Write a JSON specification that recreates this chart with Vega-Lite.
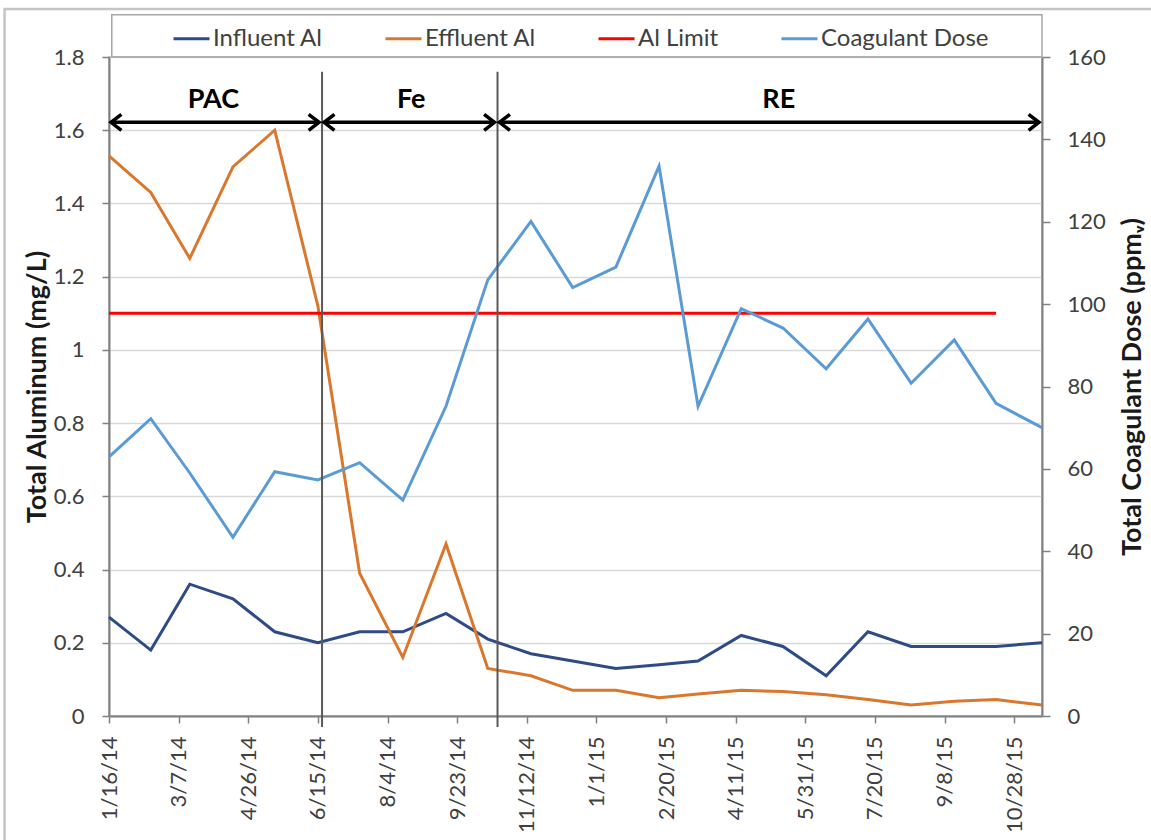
{
  "$schema": "https://vega.github.io/schema/vega-lite/v6.json",
  "width": 933,
  "height": 659,
  "autosize": {"type": "none"},
  "padding": {"left": 109, "top": 57, "right": 109, "bottom": 124},
  "background": "white",
  "config": {
    "font": "Lato",
    "view": {"stroke": "#A6A6A6", "strokeWidth": 1.5},
    "axis": {
      "labelFont": "Lato", "labelFontSize": 22, "labelColor": "#404040",
      "titleFont": "Lato", "titleFontSize": 27, "titleFontWeight": "bold", "titleColor": "#1a1a1a",
      "domainColor": "#808080", "domainWidth": 2, "tickColor": "#808080", "tickWidth": 1.5, "tickSize": 7,
      "gridColor": "#D9D9D9", "gridWidth": 1.5
    }
  },
  "datasets": {
    "series": [
      {"date": "2014-01-16", "series": "Influent Al", "value": 0.27},
      {"date": "2014-02-15", "series": "Influent Al", "value": 0.18},
      {"date": "2014-03-15", "series": "Influent Al", "value": 0.36},
      {"date": "2014-04-15", "series": "Influent Al", "value": 0.32},
      {"date": "2014-05-15", "series": "Influent Al", "value": 0.23},
      {"date": "2014-06-15", "series": "Influent Al", "value": 0.20},
      {"date": "2014-07-15", "series": "Influent Al", "value": 0.23},
      {"date": "2014-08-15", "series": "Influent Al", "value": 0.23},
      {"date": "2014-09-15", "series": "Influent Al", "value": 0.28},
      {"date": "2014-10-15", "series": "Influent Al", "value": 0.21},
      {"date": "2014-11-15", "series": "Influent Al", "value": 0.17},
      {"date": "2014-12-15", "series": "Influent Al", "value": 0.15},
      {"date": "2015-01-15", "series": "Influent Al", "value": 0.13},
      {"date": "2015-02-15", "series": "Influent Al", "value": 0.14},
      {"date": "2015-03-15", "series": "Influent Al", "value": 0.15},
      {"date": "2015-04-15", "series": "Influent Al", "value": 0.22},
      {"date": "2015-05-15", "series": "Influent Al", "value": 0.19},
      {"date": "2015-06-15", "series": "Influent Al", "value": 0.11},
      {"date": "2015-07-15", "series": "Influent Al", "value": 0.23},
      {"date": "2015-08-15", "series": "Influent Al", "value": 0.19},
      {"date": "2015-09-15", "series": "Influent Al", "value": 0.19},
      {"date": "2015-10-15", "series": "Influent Al", "value": 0.19},
      {"date": "2015-11-17", "series": "Influent Al", "value": 0.20},
      {"date": "2014-01-16", "series": "Effluent Al", "value": 1.53},
      {"date": "2014-02-15", "series": "Effluent Al", "value": 1.43},
      {"date": "2014-03-15", "series": "Effluent Al", "value": 1.25},
      {"date": "2014-04-15", "series": "Effluent Al", "value": 1.50},
      {"date": "2014-05-15", "series": "Effluent Al", "value": 1.60},
      {"date": "2014-06-15", "series": "Effluent Al", "value": 1.12},
      {"date": "2014-07-15", "series": "Effluent Al", "value": 0.39},
      {"date": "2014-08-15", "series": "Effluent Al", "value": 0.16},
      {"date": "2014-09-15", "series": "Effluent Al", "value": 0.47},
      {"date": "2014-10-15", "series": "Effluent Al", "value": 0.13},
      {"date": "2014-11-15", "series": "Effluent Al", "value": 0.11},
      {"date": "2014-12-15", "series": "Effluent Al", "value": 0.07},
      {"date": "2015-01-15", "series": "Effluent Al", "value": 0.07},
      {"date": "2015-02-15", "series": "Effluent Al", "value": 0.05},
      {"date": "2015-03-15", "series": "Effluent Al", "value": 0.06},
      {"date": "2015-04-15", "series": "Effluent Al", "value": 0.07},
      {"date": "2015-05-15", "series": "Effluent Al", "value": 0.067},
      {"date": "2015-06-15", "series": "Effluent Al", "value": 0.058},
      {"date": "2015-07-15", "series": "Effluent Al", "value": 0.045},
      {"date": "2015-08-15", "series": "Effluent Al", "value": 0.03},
      {"date": "2015-09-15", "series": "Effluent Al", "value": 0.04},
      {"date": "2015-10-15", "series": "Effluent Al", "value": 0.045},
      {"date": "2015-11-17", "series": "Effluent Al", "value": 0.03},
      {"date": "2014-01-16", "series": "Al Limit", "value": 1.1},
      {"date": "2014-02-15", "series": "Al Limit", "value": 1.1},
      {"date": "2014-03-15", "series": "Al Limit", "value": 1.1},
      {"date": "2014-04-15", "series": "Al Limit", "value": 1.1},
      {"date": "2014-05-15", "series": "Al Limit", "value": 1.1},
      {"date": "2014-06-15", "series": "Al Limit", "value": 1.1},
      {"date": "2014-07-15", "series": "Al Limit", "value": 1.1},
      {"date": "2014-08-15", "series": "Al Limit", "value": 1.1},
      {"date": "2014-09-15", "series": "Al Limit", "value": 1.1},
      {"date": "2014-10-15", "series": "Al Limit", "value": 1.1},
      {"date": "2014-11-15", "series": "Al Limit", "value": 1.1},
      {"date": "2014-12-15", "series": "Al Limit", "value": 1.1},
      {"date": "2015-01-15", "series": "Al Limit", "value": 1.1},
      {"date": "2015-02-15", "series": "Al Limit", "value": 1.1},
      {"date": "2015-03-15", "series": "Al Limit", "value": 1.1},
      {"date": "2015-04-15", "series": "Al Limit", "value": 1.1},
      {"date": "2015-05-15", "series": "Al Limit", "value": 1.1},
      {"date": "2015-06-15", "series": "Al Limit", "value": 1.1},
      {"date": "2015-07-15", "series": "Al Limit", "value": 1.1},
      {"date": "2015-08-15", "series": "Al Limit", "value": 1.1},
      {"date": "2015-09-15", "series": "Al Limit", "value": 1.1},
      {"date": "2015-10-15", "series": "Al Limit", "value": 1.1},
      {"date": "2014-01-16", "series": "Coagulant Dose", "value": 62.9},
      {"date": "2014-02-15", "series": "Coagulant Dose", "value": 72.2},
      {"date": "2014-03-15", "series": "Coagulant Dose", "value": 59.0},
      {"date": "2014-04-15", "series": "Coagulant Dose", "value": 43.4},
      {"date": "2014-05-15", "series": "Coagulant Dose", "value": 59.3},
      {"date": "2014-06-15", "series": "Coagulant Dose", "value": 57.3},
      {"date": "2014-07-15", "series": "Coagulant Dose", "value": 61.5},
      {"date": "2014-08-15", "series": "Coagulant Dose", "value": 52.4},
      {"date": "2014-09-15", "series": "Coagulant Dose", "value": 75.2},
      {"date": "2014-10-15", "series": "Coagulant Dose", "value": 105.9},
      {"date": "2014-11-15", "series": "Coagulant Dose", "value": 120.1},
      {"date": "2014-12-15", "series": "Coagulant Dose", "value": 104.0},
      {"date": "2015-01-15", "series": "Coagulant Dose", "value": 109.0},
      {"date": "2015-02-15", "series": "Coagulant Dose", "value": 133.5},
      {"date": "2015-03-15", "series": "Coagulant Dose", "value": 75.2},
      {"date": "2015-04-15", "series": "Coagulant Dose", "value": 98.9},
      {"date": "2015-05-15", "series": "Coagulant Dose", "value": 94.2},
      {"date": "2015-06-15", "series": "Coagulant Dose", "value": 84.3},
      {"date": "2015-07-15", "series": "Coagulant Dose", "value": 96.4},
      {"date": "2015-08-15", "series": "Coagulant Dose", "value": 80.8},
      {"date": "2015-09-15", "series": "Coagulant Dose", "value": 91.3},
      {"date": "2015-10-15", "series": "Coagulant Dose", "value": 75.9},
      {"date": "2015-11-17", "series": "Coagulant Dose", "value": 70.0}
    ],
    "phases": [
      {"phase": "PAC", "start": "2014-01-16", "end": "2014-06-18", "labelDate": "2014-04-01"},
      {"phase": "Fe", "start": "2014-06-18", "end": "2014-10-22", "labelDate": "2014-08-21"},
      {"phase": "RE", "start": "2014-10-22", "end": "2015-11-17", "labelDate": "2015-05-12"}
    ]
  },
  "layer": [
    {
      "data": {"name": "series"},
      "transform": [{"filter": "datum.series !== 'Coagulant Dose'"}],
      "mark": {"type": "line", "strokeWidth": 3},
      "encoding": {
        "x": {
          "field": "date", "type": "temporal",
          "scale": {"type": "utc", "domain": [1389830400000, 1447718400000], "nice": false},
          "axis": {"title": null, "labelExpr": "utcFormat(datum.value, '%-m/%-d/%y')", "labelAngle": 270, "labelPadding": 13, "grid": false, "orient": "bottom", "values": [1389830400000, 1394150400000, 1398470400000, 1402790400000, 1407110400000, 1411430400000, 1415750400000, 1420070400000, 1424390400000, 1428710400000, 1433030400000, 1437350400000, 1441670400000, 1445990400000]}
        },
        "y": {
          "field": "value", "type": "quantitative",
          "scale": {"domain": [0, 1.8], "nice": false},
          "axis": {"orient": "left", "title": "Total Aluminum (mg/L)", "values": [0, 0.2, 0.4, 0.6, 0.8, 1, 1.2, 1.4, 1.6, 1.8], "format": "~g", "labelPadding": 18, "titlePadding": 2, "grid": true}
        },
        "color": {
          "field": "series", "type": "nominal",
          "scale": {"domain": ["Influent Al", "Effluent Al", "Al Limit", "Coagulant Dose"], "range": ["#2E4A87", "#D9782D", "#FF0000", "#5B9BD5"]},
          "legend": {"orient": "none", "legendX": 63, "legendY": -38, "direction": "horizontal", "title": null, "symbolType": "stroke", "symbolSize": 1296, "symbolStrokeWidth": 3, "labelFont": "Lato", "labelFontSize": 24, "labelColor": "#404040", "labelOffset": 2, "labelLimit": 400, "columnPadding": 56, "padding": 0}
        }
      }
    },
    {
      "data": {"name": "series"},
      "transform": [{"filter": "datum.series === 'Coagulant Dose'"}],
      "mark": {"type": "line", "strokeWidth": 3},
      "encoding": {
        "x": {"field": "date", "type": "temporal", "scale": {"type": "utc"},
          "axis": {"title": null, "labelExpr": "utcFormat(datum.value, '%-m/%-d/%y')", "labelAngle": 270, "labelPadding": 13, "grid": false, "orient": "bottom", "values": [1389830400000, 1394150400000, 1398470400000, 1402790400000, 1407110400000, 1411430400000, 1415750400000, 1420070400000, 1424390400000, 1428710400000, 1433030400000, 1437350400000, 1441670400000, 1445990400000]}},
        "y": {
          "field": "value", "type": "quantitative",
          "scale": {"domain": [0, 160], "nice": false},
          "axis": {"orient": "right", "title": "Total Coagulant Dose (ppmᵥ)", "titleAngle": 270, "titleBaseline": "top", "values": [0, 20, 40, 60, 80, 100, 120, 140, 160], "grid": false, "tickSize": 8, "labelPadding": 17, "titlePadding": 14}
        },
        "color": {"field": "series", "type": "nominal"}
      }
    },
    {
      "data": {"values": [{}]},
      "mark": {"type": "rect", "fill": "transparent", "stroke": "#C4C4C4", "strokeWidth": 2.5},
      "encoding": {
        "x": {"datum": 1383350400000, "type": "temporal", "scale": {"type": "utc"},
          "axis": {"title": null, "labelExpr": "utcFormat(datum.value, '%-m/%-d/%y')", "labelAngle": 270, "labelPadding": 13, "grid": false, "orient": "bottom", "values": [1389830400000, 1394150400000, 1398470400000, 1402790400000, 1407110400000, 1411430400000, 1415750400000, 1420070400000, 1424390400000, 1428710400000, 1433030400000, 1437350400000, 1441670400000, 1445990400000]}},
        "x2": {"datum": 1456790400000},
        "y": {"datum": 1.931, "type": "quantitative", "scale": {"domain": [0, 1.8], "nice": false}, "axis": null},
        "y2": {"datum": -0.6}
      }
    },
    {
      "data": {"values": [{}]},
      "mark": {"type": "rect", "fill": "transparent", "stroke": "#A6A6A6", "strokeWidth": 1.5},
      "encoding": {
        "x": {"datum": 1390003200000, "type": "temporal", "scale": {"type": "utc"},
          "axis": {"title": null, "labelExpr": "utcFormat(datum.value, '%-m/%-d/%y')", "labelAngle": 270, "labelPadding": 13, "grid": false, "orient": "bottom", "values": [1389830400000, 1394150400000, 1398470400000, 1402790400000, 1407110400000, 1411430400000, 1415750400000, 1420070400000, 1424390400000, 1428710400000, 1433030400000, 1437350400000, 1441670400000, 1445990400000]}},
        "x2": {"datum": 1447718400000},
        "y": {"datum": 1.8, "type": "quantitative", "scale": {"domain": [0, 1.8], "nice": false}, "axis": null},
        "y2": {"datum": 1.9155}
      }
    },
    {
      "data": {"name": "phases"},
      "transform": [{"filter": "datum.phase !== 'RE'"}],
      "mark": {"type": "rule", "color": "#595959", "strokeWidth": 2},
      "encoding": {
        "x": {"field": "end", "type": "temporal", "scale": {"type": "utc"},
          "axis": {"title": null, "labelExpr": "utcFormat(datum.value, '%-m/%-d/%y')", "labelAngle": 270, "labelPadding": 13, "grid": false, "orient": "bottom", "values": [1389830400000, 1394150400000, 1398470400000, 1402790400000, 1407110400000, 1411430400000, 1415750400000, 1420070400000, 1424390400000, 1428710400000, 1433030400000, 1437350400000, 1441670400000, 1445990400000]}},
        "y": {"datum": 1.76, "type": "quantitative", "scale": {"domain": [0, 1.8], "nice": false}, "axis": null},
        "y2": {"datum": -0.03}
      }
    },
    {
      "data": {"name": "phases"},
      "mark": {"type": "rule", "color": "black", "strokeWidth": 3.5, "xOffset": 3, "x2Offset": -3},
      "encoding": {
        "x": {"field": "start", "type": "temporal", "scale": {"type": "utc"},
          "axis": {"title": null, "labelExpr": "utcFormat(datum.value, '%-m/%-d/%y')", "labelAngle": 270, "labelPadding": 13, "grid": false, "orient": "bottom", "values": [1389830400000, 1394150400000, 1398470400000, 1402790400000, 1407110400000, 1411430400000, 1415750400000, 1420070400000, 1424390400000, 1428710400000, 1433030400000, 1437350400000, 1441670400000, 1445990400000]}},
        "x2": {"field": "end"},
        "y": {"datum": 1.6215, "type": "quantitative", "scale": {"domain": [0, 1.8], "nice": false}, "axis": null}
      }
    },
    {
      "data": {"name": "phases"},
      "mark": {"type": "point", "shape": "M1.3,-1L0,0L1.3,1", "filled": false, "stroke": "black", "strokeWidth": 3.5, "opacity": 1, "size": 256, "xOffset": 2},
      "encoding": {
        "x": {"field": "start", "type": "temporal", "scale": {"type": "utc"},
          "axis": {"title": null, "labelExpr": "utcFormat(datum.value, '%-m/%-d/%y')", "labelAngle": 270, "labelPadding": 13, "grid": false, "orient": "bottom", "values": [1389830400000, 1394150400000, 1398470400000, 1402790400000, 1407110400000, 1411430400000, 1415750400000, 1420070400000, 1424390400000, 1428710400000, 1433030400000, 1437350400000, 1441670400000, 1445990400000]}},
        "y": {"datum": 1.6215, "type": "quantitative", "scale": {"domain": [0, 1.8], "nice": false}, "axis": null}
      }
    },
    {
      "data": {"name": "phases"},
      "mark": {"type": "point", "shape": "M-1.3,-1L0,0L-1.3,1", "filled": false, "stroke": "black", "strokeWidth": 3.5, "opacity": 1, "size": 256, "xOffset": -3},
      "encoding": {
        "x": {"field": "end", "type": "temporal", "scale": {"type": "utc"},
          "axis": {"title": null, "labelExpr": "utcFormat(datum.value, '%-m/%-d/%y')", "labelAngle": 270, "labelPadding": 13, "grid": false, "orient": "bottom", "values": [1389830400000, 1394150400000, 1398470400000, 1402790400000, 1407110400000, 1411430400000, 1415750400000, 1420070400000, 1424390400000, 1428710400000, 1433030400000, 1437350400000, 1441670400000, 1445990400000]}},
        "y": {"datum": 1.6215, "type": "quantitative", "scale": {"domain": [0, 1.8], "nice": false}, "axis": null}
      }
    },
    {
      "data": {"name": "phases"},
      "mark": {"type": "text", "font": "Lato", "fontSize": 27, "fontWeight": "bold", "color": "black", "baseline": "middle", "align": "center"},
      "encoding": {
        "x": {"field": "labelDate", "type": "temporal", "scale": {"type": "utc"},
          "axis": {"title": null, "labelExpr": "utcFormat(datum.value, '%-m/%-d/%y')", "labelAngle": 270, "labelPadding": 13, "grid": false, "orient": "bottom", "values": [1389830400000, 1394150400000, 1398470400000, 1402790400000, 1407110400000, 1411430400000, 1415750400000, 1420070400000, 1424390400000, 1428710400000, 1433030400000, 1437350400000, 1441670400000, 1445990400000]}},
        "y": {"datum": 1.683, "type": "quantitative", "scale": {"domain": [0, 1.8], "nice": false}, "axis": null},
        "text": {"field": "phase"}
      }
    }
  ],
  "resolve": {"scale": {"y": "independent"}}
}
